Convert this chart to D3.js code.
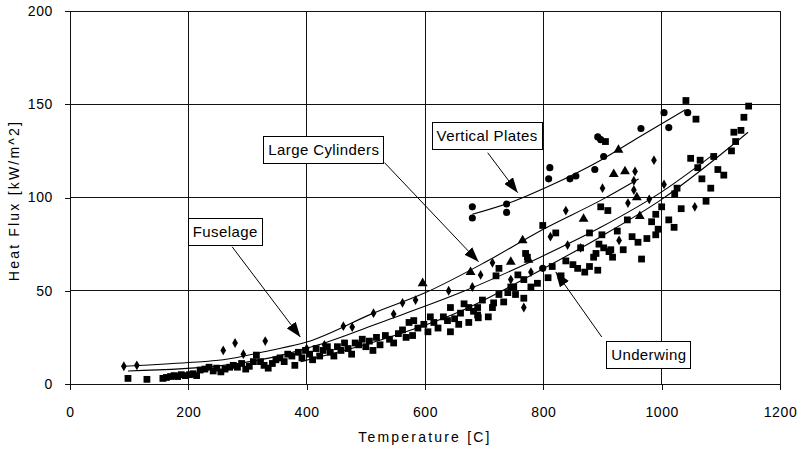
<!DOCTYPE html>
<html>
<head>
<meta charset="utf-8">
<script src="https://cdn.jsdelivr.net/npm/d3@7"></script>
<style>
  html, body { margin: 0; padding: 0; background: #fff; }
  svg { display: block; }
  text { font-family: Arial, "Liberation Sans", sans-serif; fill: #000; }
</style>
</head>
<body>
<div id="chart"></div>
<script>
// ---------- data ----------
const xTicks = [0, 200, 400, 600, 800, 1000, 1200];
const yTicks = [0, 50, 100, 150, 200];
const xTitle = "Temperature [C]";
const yTitle = "Heat Flux  [kW/m^2]";

// Underwing (squares)
const underwing = [
  [98,3],[130,2.5],[157,3],[163,3.5],[170,4],[176,4.5],[182,4],[188,5],[195,4.5],[202,5],[208,5.5],[214,4.5],
  [220,7.5],[228,8],[235,9],[242,7],[248,8.5],[255,6.5],[262,8],[270,9],[276,10],[283,9],[290,11],[297,8],
  [303,9.5],[310,12],[315,15.5],[322,12],[328,10],[335,8.5],[342,11],[348,13],[355,14],[362,12],[368,16],
  [375,15],[380,10],[386,17],[392,14],[398,18],[405,16],[410,13],[416,19],[422,15],[428,18],[435,20],[440,17],
  [446,15],[452,20],[458,18],[464,22],[470,19],[476,16],[482,22],[488,21],[494,24],[500,20],[506,23],[512,18],
  [518,25],[524,21],[533,26],[540,24],[547,22],[555,27],[562,29],[568,25],[573,33],[579,26],[581,34],[588,30],
  [598,32],[605,28],[609,36],[615,33],[622,30],[631,36],[638,34],[643,28],[643,41],[650,35],[657,32],[660,38],
  [666,43],[674,41],[674,33],[682,39],[689,41],[689,37],[690,35.5],[697,45],[707,36],[714,41],[716,43.5],
  [720,58],[725,48],[725,62],[733,44],[740,49],[745,52],[750,52],[753,48],[757,58.5],[767,46],[767,56],[770,70],
  [773,68],[779,52],[790,54],[799,85],[808,57],[815,63],[821,81],[830,58],[838,66],[850,64],[858,62],
  [863,73],[870,60],[878,81],[878,63],[885,68],[889,70],[892,61],[894,75],[897,95],[899,80],[902,73],[905,130],
  [909,93],[911,71],[914,72],[917,68],[925,82],[935,72],[942,88],[950,79],[960,76],[966,67],[975,78],[983,87],
  [990,91],[990,80],[994,83],[1000,95],[1012,88],[1021,84],[1022,102],[1026,105],[1033,94],[1041,152],[1049,121],
  [1058,142],[1061,116],[1065,120],[1068,110],[1075,98],[1083,105],[1088,122],[1095,115],[1105,112],[1118,125],
  [1122,135],[1125,130],[1134,136],[1139,143],[1147,149]
];
// Fuselage (diamonds)
const fuselage = [
  [91,9.5],[113,10],[259,18],[279,22],[293,16],[330,23],[400,19],[430,21],[462,31],[477,30.5],[513,38],[547,37.5],
  [562,43.5],[584,45],[640,50],[680,52],[694,58.5],[714,65],[745,56],[767,41],[779,60],[812,79],[838,93],
  [841,74.5],[863,73],[900,105],[928,77],[943,97],[953,104],[953,109],[955,114],[979,99],[987,120],[1004,107],
  [1056,95]
];
// Large cylinders (triangles)
const cylinders = [
  [596,54],[677,60],[745,65.5],[765,77],[775,66.5],[868,88.5],[919,112.5],[927,125.5],[938,114],[958,100],[963,90]
];
// Vertical plates (circles)
const plates = [
  [680,95],[680,89],[738,96.5],[738,92],[799,62],[809,110],[811,116],[845,110],[855,111.5],[887,115],[892,132.5],
  [897,131],[902,122],[965,137],[1004,145.5],[1012,137.5],[1044,145.5]
];

// Fitted curves
const fitPlates = [[680,91],[750,98],[809,106],[897,120],[960,132],[1040,147]];
const fitUpper  = [[91,9.5],[200,11.5],[259,13],[338,18],[400,22.5],[513,38],[601,49],[700,65],[800,83],[900,99],[961,110]];
const fitMiddle = [[98,7],[259,10],[338,14],[420,21],[525,33],[660,49],[795,68],[897,84],[1000,103],[1087,123]];
const fitLower  = [[390,12],[525,23.6],[660,39],[795,61],[897,79],[1000,99],[1146,135]];

// Annotation labels: [text, box centre (data), arrow start (data), arrow tip (data)]
const labels = ["Vertical Plates", "Large Cylinders", "Fuselage", "Underwing"];
const labelCenters = [[705,133.4],[429,126],[262.4,82],[978.3,15.8]];
const arrowStarts  = [[706,124],[531.5,118.7],[274,73.6],[898.8,25.2]];
const arrowTips    = [[756.6,102.6],[690.6,65.5],[389.3,25.2],[821,60.1]];

// ---------- chart ----------
const W = 798, H = 452;
const svg = d3.select("#chart").append("svg").attr("width", W).attr("height", H);

const x = d3.scaleLinear().domain([0, 1200]).range([70, 780]);
const y = d3.scaleLinear().domain([0, 200]).range([384, 11]);

svg.append("defs").append("marker")
  .attr("id", "arrow").attr("markerUnits", "userSpaceOnUse")
  .attr("viewBox", "0 0 15 11").attr("refX", 15).attr("refY", 5.5)
  .attr("markerWidth", 15).attr("markerHeight", 11).attr("orient", "auto")
  .append("path").attr("d", "M0,0 L15,5.5 L0,11 Z").attr("fill", "#000");

// gridlines
const grid = svg.append("g").attr("stroke", "#111").attr("stroke-width", 1).attr("shape-rendering", "crispEdges");
grid.selectAll("line.v").data(xTicks).join("line").attr("class", "v")
  .attr("x1", d => x(d)).attr("x2", d => x(d)).attr("y1", y(200)).attr("y2", y(0));
grid.selectAll("line.h").data(yTicks).join("line").attr("class", "h")
  .attr("y1", d => y(d)).attr("y2", d => y(d)).attr("x1", x(0)).attr("x2", x(1200));

// axes
const gx = svg.append("g").attr("transform", `translate(0,${y(0)})`)
  .call(d3.axisBottom(x).tickValues(xTicks).tickFormat(d3.format("d")).tickSize(6).tickPadding(17));
const gy = svg.append("g").attr("transform", `translate(${x(0)},0)`)
  .call(d3.axisLeft(y).tickValues(yTicks).tickFormat(d3.format("d")).tickSize(5).tickPadding(12));
[gx, gy].forEach(g => {
  g.select(".domain").remove();
  g.selectAll(".tick line").attr("stroke", "#111").attr("shape-rendering", "crispEdges");
  g.selectAll(".tick text").attr("font-size", 14).attr("letter-spacing", 0.6)
    .attr("font-family", "Arial, 'Liberation Sans', sans-serif").attr("fill", "#000");
});

svg.append("text").attr("x", x(600)).attr("y", 442).attr("text-anchor", "middle")
  .attr("font-size", 14).attr("letter-spacing", 2.2).text(xTitle);
svg.append("text").attr("transform", `translate(19,${(y(0) + y(200)) / 2 + 3}) rotate(-90)`)
  .attr("text-anchor", "middle").attr("font-size", 14).attr("letter-spacing", 2.2).text(yTitle);

// fitted curves
const line = d3.line().x(d => x(d[0])).y(d => y(d[1])).curve(d3.curveMonotoneX);
[fitPlates, fitUpper, fitMiddle, fitLower].forEach(c => {
  svg.append("path").attr("d", line(c)).attr("fill", "none").attr("stroke", "#000").attr("stroke-width", 1.1);
});

// points
function drawPoints(data, type, size) {
  svg.append("g").selectAll("path").data(data).join("path")
    .attr("transform", d => `translate(${x(d[0])},${y(d[1])})`)
    .attr("d", d3.symbol().type(type).size(size))
    .attr("fill", "#000");
}
drawPoints(underwing, d3.symbolSquare, 46);
drawPoints(fuselage, d3.symbolDiamond, 28);
drawPoints(cylinders, d3.symbolTriangle, 42);
drawPoints(plates, d3.symbolCircle, 40);

// annotations
labels.forEach((t, i) => {
  const s = arrowStarts[i], e = arrowTips[i];
  svg.append("line")
    .attr("x1", x(s[0])).attr("y1", y(s[1])).attr("x2", x(e[0])).attr("y2", y(e[1]))
    .attr("stroke", "#000").attr("stroke-width", 1).attr("marker-end", "url(#arrow)");
});
labels.forEach((t, i) => {
  const c = labelCenters[i];
  const g = svg.append("g");
  const txt = g.append("text").attr("x", x(c[0])).attr("y", y(c[1]) + 5.5)
    .attr("text-anchor", "middle").attr("font-size", 15).attr("letter-spacing", 0.4).text(t);
  const bb = txt.node().getBBox();
  g.insert("rect", "text")
    .attr("x", Math.round(bb.x - 5) + 0.5).attr("y", Math.round(y(c[1]) - 13.5) + 0.5)
    .attr("width", Math.round(bb.width + 9)).attr("height", 27)
    .attr("fill", "#fff").attr("stroke", "#000").attr("stroke-width", 1);
});
</script>
</body>
</html>
